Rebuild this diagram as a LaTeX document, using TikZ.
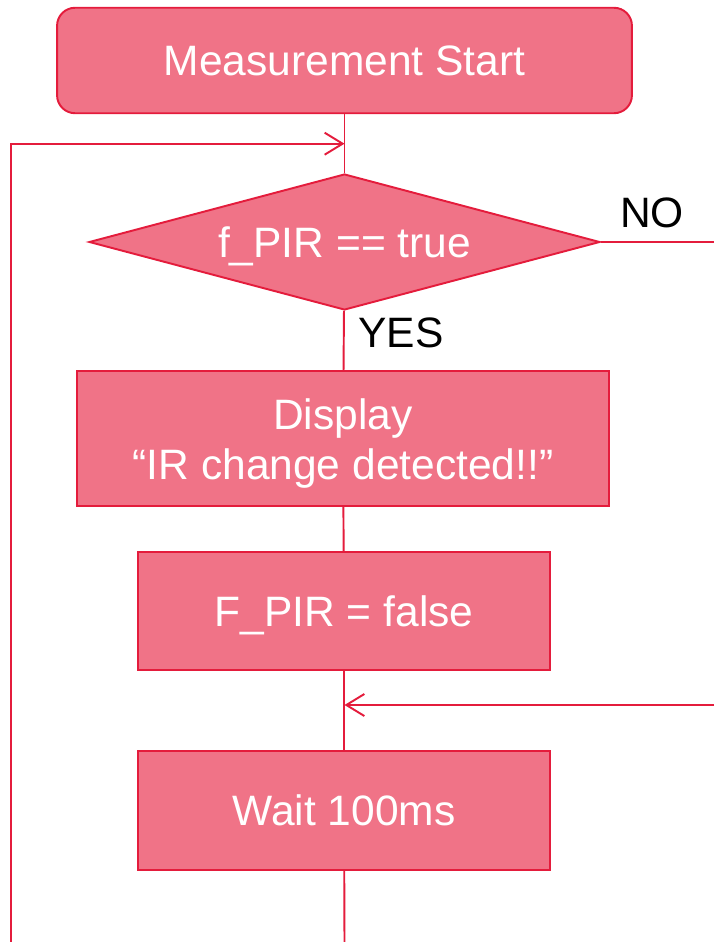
\documentclass[tikz,border=0pt]{standalone}
\usepackage{fontspec}
\setmainfont{Liberation Sans}
\usetikzlibrary{arrows.meta,shapes.geometric}
\definecolor{flowfill}{RGB}{240,115,135}
\definecolor{flowline}{RGB}{228,28,60}
\tikzset{
    >={Straight Barb[length=0.36cm,width=0.44cm,line width=1.1pt]},
    flow/.style={draw=flowline,line width=1.1pt},
    flowtext/.style={text=white,font=\fontsize{24.2}{28.5}\selectfont,text height=0.61cm,text depth=0cm},
    startbox/.style={flow,flowtext,rectangle,rounded corners=0.36cm,fill=flowfill,minimum width=11.5cm,minimum height=2.11cm},
    procbox/.style={flow,flowtext,rectangle,fill=flowfill,align=center},
    decide/.style={flow,flowtext,diamond,fill=flowfill,inner sep=0pt,aspect=3.76,minimum width=10.22cm,minimum height=2.72cm},
    answer/.style={font=\fontsize{24.2}{28.5}\selectfont}
}

\begin{document}
\begin{tikzpicture}[x=0.02cm,y=-0.02cm]
  \useasboundingbox (0,0) rectangle (714,942);

  \node[startbox] (start) at (344.5, 60.5) {Measurement Start};
  \node[decide] (pir) at (344.5, 242) {f\_PIR == true};
  \node[procbox,minimum width=10.65cm,minimum height=2.706cm,text height=1.664cm] (disp) at (343, 438.4) {Display\\``IR change detected!!''};
  \node[procbox,minimum width=8.24cm,minimum height=2.36cm] (clear) at (344, 611) {F\_PIR = false};
  \node[procbox,minimum width=8.24cm,minimum height=2.38cm] (wait) at (344, 810.5) {Wait 100ms};

  \coordinate (loopin) at (344.5, 143.7);
  \coordinate (loopcorner) at (11.4, 143.7);
  \coordinate (loopbottom) at (11.4, 942);
  \coordinate (trunkend) at (344.5, 942);
  \coordinate (noend) at (714, 242);
  \coordinate (backstart) at (714, 705);
  \coordinate (backin) at (344.5, 705);

  \draw[flow] (start) -- (pir);
  \draw[flow] (pir) -- (disp);
  \draw[flow] (disp) -- (clear);
  \draw[flow] (clear) -- (wait);
  \draw[flow] (wait) -- (trunkend);
  \draw[flow,->] (loopbottom) -- (loopcorner) -- (loopin);
  \draw[flow] (pir.east) -- (noend);
  \draw[flow,->] (backstart) -- (backin);

  \node[answer] (no) at (652, 213) {NO};
  \node[answer] (yes) at (401, 333) {YES};
\end{tikzpicture}
\end{document}
